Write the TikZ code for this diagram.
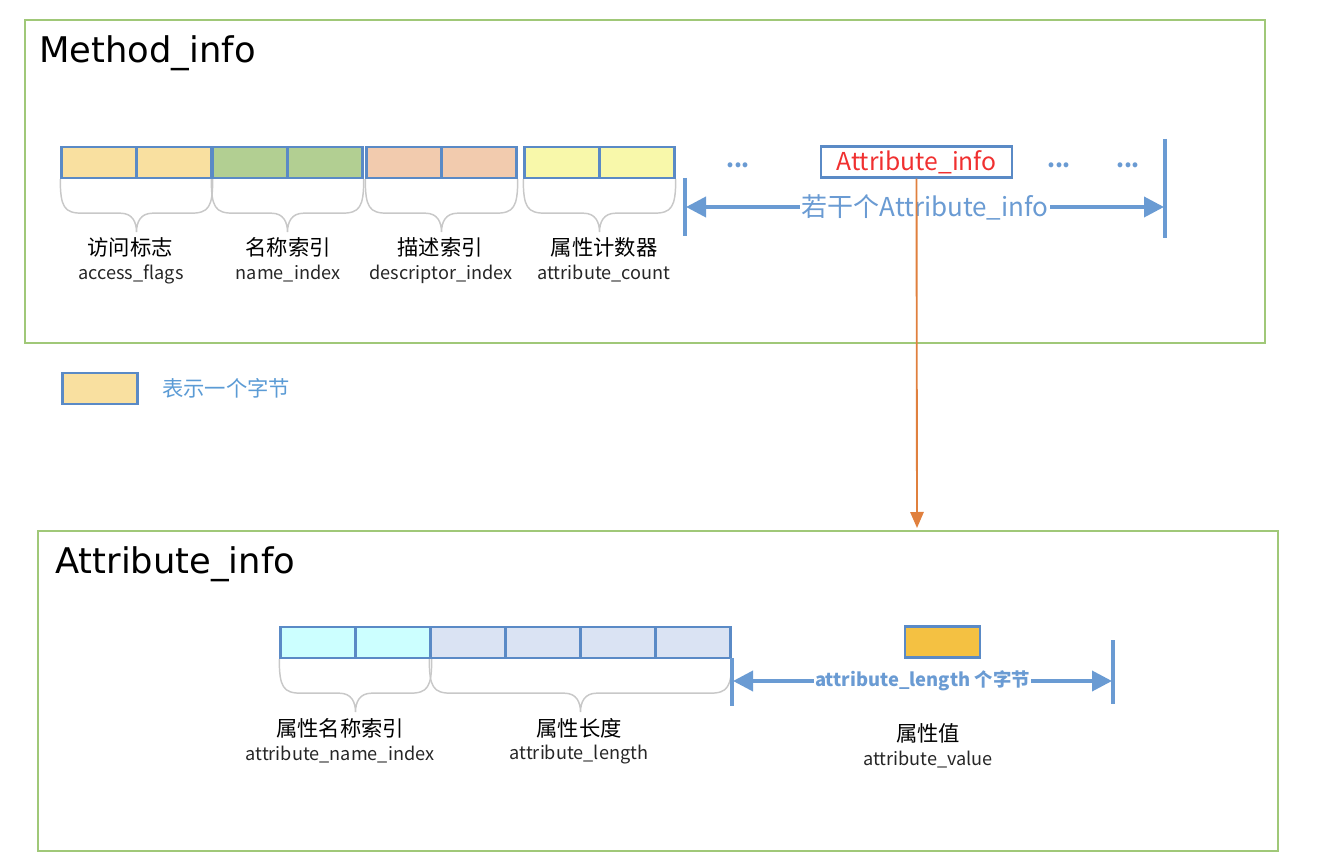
\documentclass[tikz,border=0pt]{standalone}
\usepackage{fontspec}
\setmainfont{Noto Sans CJK SC}
\newfontfamily\titlefont{DejaVu Sans}
\usetikzlibrary{arrows.meta,calc}
\definecolor{bborder}{HTML}{5A8AC6}
\definecolor{fgreen}{HTML}{A0C878}
\definecolor{cyel}{HTML}{F9E0A0}
\definecolor{cgrn}{HTML}{B2CF92}
\definecolor{csal}{HTML}{F2CBAE}
\definecolor{clem}{HTML}{F8F8AA}
\definecolor{ccya}{HTML}{CCFFFF}
\definecolor{clav}{HTML}{DAE3F3}
\definecolor{corg}{HTML}{F4C142}
\definecolor{ablue}{HTML}{6A9BD3}
\definecolor{oline}{HTML}{E0803E}
\definecolor{rtext}{HTML}{F03030}
\definecolor{bgray}{HTML}{C8C8C8}
\definecolor{ltext}{HTML}{5B9BD5}
\newcommand\fs[1]{\fontsize{#1}{#1}\selectfont}
\newcommand\cbrace[2]{%
  \coordinate (bl) at (#1.south west);
  \coordinate (br) at (#2.south east);
  \coordinate (bm) at ($(bl)!0.5!(br)+(0,53)$);
  \draw[bracestyle] (bl) .. controls +(0,28) and +(-18,0) .. ($(bl)+(22,34)$)
    -- ($(bm)+(-16,-19)$) .. controls +(12,0) and +(0,-10) .. (bm)
    .. controls +(0,-10) and +(-12,0) .. ($(bm)+(16,-19)$)
    -- ($(br)+(-22,34)$) .. controls +(18,0) and +(0,28) .. (br);}
\tikzset{
  byte/.style={draw=bborder, line width=1.8pt, minimum width=56.25pt, minimum height=23.25pt, inner sep=0pt},
  frame/.style={draw=fgreen, line width=2pt, inner sep=0pt},
  bracestyle/.style={draw=bgray, line width=1.1pt},
  cjklab/.style={font=\fs{16}, text=black, inner sep=0pt},
  enlab/.style={font=\fs{13.6}, text=black!85, inner sep=0pt},
  vbar/.style={draw=ablue, line width=2.8pt},
  darrow/.style={draw=ablue, line width=2.8pt, {Triangle[length=15pt,width=15pt]}-{Triangle[length=15pt,width=15pt]}},
  dots/.style={text=ablue, font=\fs{17}\bfseries, inner sep=0pt},
  title/.style={font=\titlefont\fs{26.5}, anchor=west, inner sep=0pt},
}
\begin{document}
\begin{tikzpicture}[x=0.75pt,y=-0.75pt]
\useasboundingbox (0,0) rectangle (1330,862);
% frames
\node[frame, minimum width=930pt, minimum height=242.25pt] (mframe) at (645,181.5) {};
\node[frame, minimum width=930pt, minimum height=240pt] (aframe) at (658,691) {};
\node[title] (mtitle) at (39,53) {Method\_info};
\node[title] (atitle) at (55,564) {Attribute\_info};
% top bytes
\node[byte, fill=cyel] (b1) at (99,162.5) {};
\node[byte, fill=cyel] (b2) at (174,162.5) {};
\node[byte, fill=cgrn] (b3) at (250,162.5) {};
\node[byte, fill=cgrn] (b4) at (325,162.5) {};
\node[byte, fill=csal] (b5) at (404,162.5) {};
\node[byte, fill=csal] (b6) at (479,162.5) {};
\node[byte, fill=clem] (b7) at (562,162.5) {};
\node[byte, fill=clem] (b8) at (637,162.5) {};
\cbrace{b1}{b2}
\cbrace{b3}{b4}
\cbrace{b5}{b6}
\cbrace{b7}{b8}
\node[cjklab] (l1c) at (130,247) {访问标志};
\node[enlab] (l1e) at (131,274) {access\_flags};
\node[cjklab] (l2c) at (288,247) {名称索引};
\node[enlab] (l2e) at (288,274) {name\_index};
\node[cjklab] (l3c) at (440,247) {描述索引};
\node[enlab] (l3e) at (441,274) {descriptor\_index};
\node[cjklab] (l4c) at (604,247) {属性计数器};
\node[enlab] (l4e) at (604,274) {attribute\_count};
% dots and attribute_info
\node[dots] (d1) at (738,165) {...};
\node[draw=bborder, line width=1.8pt, minimum width=143.25pt, minimum height=23.25pt, inner sep=0pt, text=rtext, font=\fs{18.5}] (ai) at (916.5,162) {Attribute\_info};
\node[dots] (d2) at (1059,165) {...};
\node[dots] (d3) at (1128,165) {...};
% span arrow
\coordinate (v1t) at (685,178); \coordinate (v1b) at (685,236);
\coordinate (v2t) at (1165,139); \coordinate (v2b) at (1165,238);
\draw[vbar] (v1t) -- (v1b);
\draw[vbar] (v2t) -- (v2b);
\coordinate (s1l) at (686,207); \coordinate (s1r) at (1164,207);
\draw[darrow] (s1l) -- (s1r) node[pos=0.5, fill=white, inner sep=1pt, text=ablue, font=\fs{19.5}] (s1t) {若干个Attribute\_info};
% orange connector
\coordinate (aitgt) at (917,528);
\draw[draw=oline, line width=1.4pt, -{Triangle[length=12pt,width=10pt]}] (ai.south) -- (aitgt);
% legend
\node[byte, fill=cyel] (leg) at (100,388.5) {};
\node[anchor=west, text=ltext, font=\fs{16}, inner sep=0pt] (legt) at (162,388) {表示一个字节};
% bottom bytes
\node[byte, fill=ccya] (c1) at (318,642.5) {};
\node[byte, fill=ccya] (c2) at (393,642.5) {};
\node[byte, fill=clav] (c3) at (468,642.5) {};
\node[byte, fill=clav] (c4) at (543,642.5) {};
\node[byte, fill=clav] (c5) at (618,642.5) {};
\node[byte, fill=clav] (c6) at (693,642.5) {};
\node[byte, fill=corg] (cv) at (942.5,642) {};
\cbrace{c1}{c2}
\cbrace{c3}{c6}
\node[cjklab] (m1c) at (340,728) {属性名称索引};
\node[enlab] (m1e) at (340,755) {attribute\_name\_index};
\node[cjklab] (m2c) at (579,728) {属性长度};
\node[enlab] (m2e) at (579,755) {attribute\_length};
\node[cjklab] (m3c) at (928,733) {属性值};
\node[enlab] (m3e) at (928,760) {attribute\_value};
\coordinate (w1t) at (732,658); \coordinate (w1b) at (732,706);
\coordinate (w2t) at (1113,640); \coordinate (w2b) at (1113,704);
\draw[vbar] (w1t) -- (w1b);
\draw[vbar] (w2t) -- (w2b);
\coordinate (s2l) at (733,681); \coordinate (s2r) at (1112,681);
\draw[darrow] (s2l) -- (s2r) node[pos=0.5, fill=white, inner sep=1pt, text=ablue, font=\fs{13.8}\bfseries] (s2t) {attribute\_length 个字节};
\end{tikzpicture}
\end{document}
